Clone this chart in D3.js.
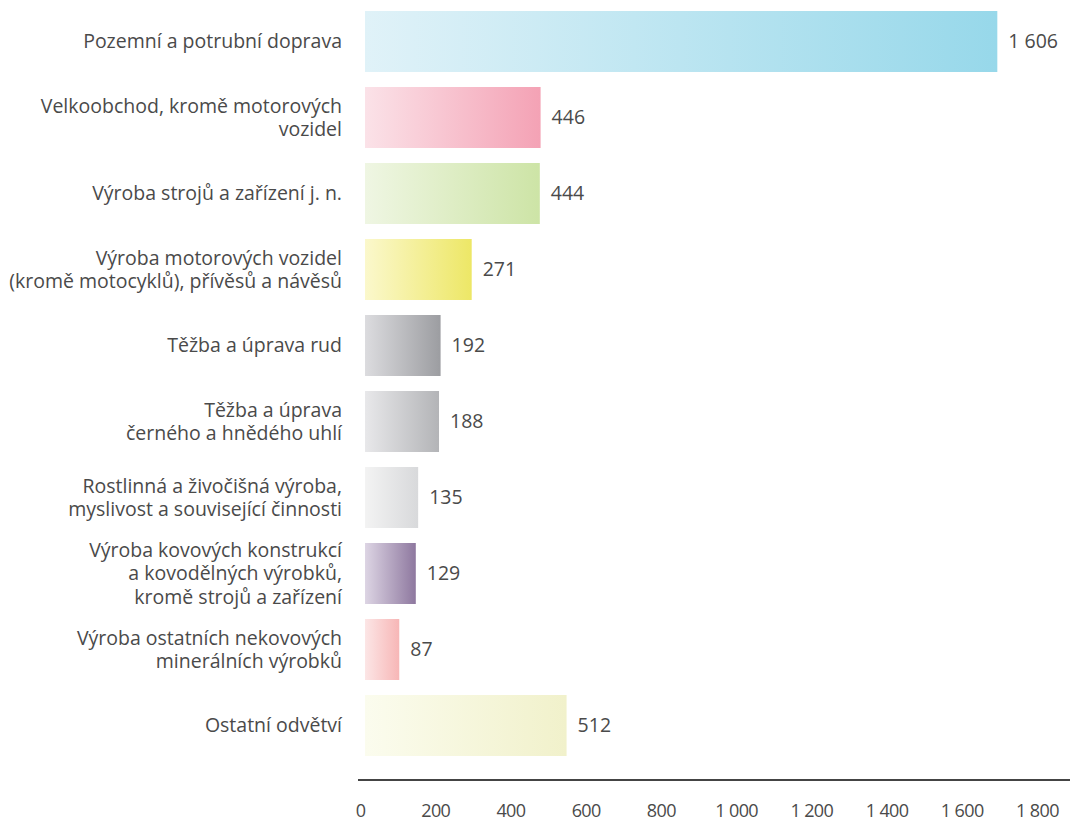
<!DOCTYPE html>
<html lang="cs">
<head>
<meta charset="utf-8">
<script src="https://cdn.jsdelivr.net/npm/d3@7"></script>
<style>
  html, body { margin: 0; padding: 0; background: #fff; }
  svg { display: block; font-family: "Open Sans", "Noto Sans", sans-serif; }
</style>
</head>
<body>
<svg id="chart" width="1070" height="821"></svg>
<script>
// Odvětví (řádky popisku oddělené "\n")
const categories = [
  "Pozemní a potrubní doprava",
  "Velkoobchod, kromě motorových\nvozidel",
  "Výroba strojů a zařízení j. n.",
  "Výroba motorových vozidel\n(kromě motocyklů), přívěsů a návěsů",
  "Těžba a úprava rud",
  "Těžba a úprava\nčerného a hnědého uhlí",
  "Rostlinná a živočišná výroba,\nmyslivost a související činnosti",
  "Výroba kovových konstrukcí\na kovodělných výrobků,\nkromě strojů a zařízení",
  "Výroba ostatních nekovových\nminerálních výrobků",
  "Ostatní odvětví"
];
const values = [1606, 446, 444, 271, 192, 188, 135, 129, 87, 512];
const valueLabels = ["1 606", "446", "444", "271", "192", "188", "135", "129", "87", "512"];
const tickValues = [0, 200, 400, 600, 800, 1000, 1200, 1400, 1600, 1800];
const tickLabels = ["0", "200", "400", "600", "800", "1 000", "1 200", "1 400", "1 600", "1 800"];
// Gradient každého pruhu: [světlý začátek, sytý konec]
const gradientStops = [
  ["#e0f2f8", "#97d8ea"],
  ["#fbe2e8", "#f4a2b5"],
  ["#eff6e3", "#cde4a6"],
  ["#fbf8cc", "#ede766"],
  ["#dcdcdf", "#9c9da1"],
  ["#e8e8ea", "#b3b4b7"],
  ["#f3f3f3", "#d8d9db"],
  ["#ddd5e4", "#8e789f"],
  ["#fce6e6", "#f7b6b6"],
  ["#fbfcee", "#f1f1cb"]
];

const svg = d3.select("#chart");
const textColor = "#4a4a4a";
const fontSize = 19.5;

const x = d3.scaleLinear().domain([0, 1800]).range([365, 1073.7]);
const xAxisScale = d3.scaleLinear().domain([0, 1800]).range([360, 1037]);
const y = d3.scaleBand()
  .domain(categories)
  .range([3.5, 763.5])
  .paddingInner(15 / 76)
  .paddingOuter(7.5 / 76);

const defs = svg.append("defs");
categories.forEach((c, i) => {
  const g = defs.append("linearGradient")
    .attr("id", "grad" + i)
    .attr("x1", "0%").attr("x2", "100%")
    .attr("y1", "0%").attr("y2", "0%");
  g.append("stop").attr("offset", "0%").attr("stop-color", gradientStops[i][0]);
  g.append("stop").attr("offset", "100%").attr("stop-color", gradientStops[i][1]);
});

const rows = categories.map((c, i) => ({ cat: c, value: values[i], label: valueLabels[i], i }));

// Pruhy
svg.append("g").selectAll("rect")
  .data(rows)
  .join("rect")
  .attr("x", x(0))
  .attr("y", d => y(d.cat))
  .attr("width", d => x(d.value) - x(0))
  .attr("height", y.bandwidth())
  .attr("fill", d => `url(#grad${d.i})`);

// Hodnoty za pruhy
svg.append("g").selectAll("text")
  .data(rows)
  .join("text")
  .attr("x", d => x(d.value) + 11)
  .attr("y", d => y(d.cat) + y.bandwidth() / 2)
  .attr("dy", "0.35em")
  .attr("font-size", fontSize)
  .attr("fill", textColor)
  .text(d => d.label);

// Popisky kategorií
const lineH = 23.5;
const catG = svg.append("g");
rows.forEach(d => {
  const lines = d.cat.split("\n");
  const cy = y(d.cat) + y.bandwidth() / 2;
  const t = catG.append("text")
    .attr("text-anchor", "end")
    .attr("font-size", fontSize)
    .attr("fill", textColor);
  lines.forEach((ln, k) => {
    t.append("tspan")
      .attr("x", 342)
      .attr("y", cy + (k - (lines.length - 1) / 2) * lineH)
      .attr("dy", "0.35em")
      .text(ln);
  });
});

// Osa x
const axis = d3.axisBottom(xAxisScale)
  .tickValues(tickValues)
  .tickSize(0)
  .tickPadding(0)
  .tickFormat((d, i) => tickLabels[i]);

const axisG = svg.append("g")
  .attr("transform", "translate(0,780)")
  .call(axis);
axisG.select(".domain").remove();
axisG.selectAll("text")
  .attr("y", 31)
  .attr("dy", "0.35em")
  .attr("font-size", 18)
  .attr("letter-spacing", "-0.6")
  .attr("font-family", "\"Open Sans\", \"Noto Sans\", sans-serif")
  .attr("fill", textColor);

svg.append("line")
  .attr("x1", 358).attr("x2", 1070)
  .attr("y1", 780).attr("y2", 780)
  .attr("stroke", "#444")
  .attr("stroke-width", 2);
</script>
</body>
</html>
